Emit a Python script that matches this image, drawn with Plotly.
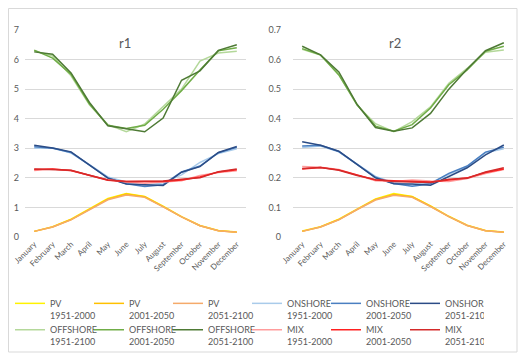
import plotly.graph_objects as go

months = ["January", "February", "March", "April", "May", "June", "July",
          "August", "September", "October", "November", "December"]

# ---- r1 ----
r1_pv_1951_2000 = [0.019, 0.035, 0.060, 0.095, 0.130, 0.147, 0.137, 0.104, 0.069, 0.039, 0.022, 0.017]
r1_pv_2001_2050 = [0.019, 0.034, 0.059, 0.094, 0.128, 0.145, 0.136, 0.103, 0.068, 0.038, 0.021, 0.016]
r1_pv_2051_2100 = [0.019, 0.034, 0.058, 0.093, 0.126, 0.142, 0.134, 0.102, 0.068, 0.038, 0.021, 0.016]
r1_on_1951_2000 = [0.300, 0.302, 0.284, 0.245, 0.203, 0.186, 0.175, 0.183, 0.210, 0.252, 0.282, 0.298]
r1_on_2001_2050 = [0.305, 0.300, 0.286, 0.244, 0.200, 0.180, 0.171, 0.177, 0.220, 0.240, 0.285, 0.303]
r1_on_2051_2100 = [0.310, 0.301, 0.288, 0.243, 0.199, 0.179, 0.176, 0.174, 0.219, 0.238, 0.286, 0.306]
r1_off_1951_2100 = [0.630, 0.612, 0.545, 0.447, 0.380, 0.356, 0.382, 0.442, 0.500, 0.595, 0.622, 0.628]
r1_off_2001_2050 = [0.632, 0.605, 0.550, 0.450, 0.378, 0.367, 0.378, 0.432, 0.495, 0.565, 0.630, 0.640]
r1_off_2051_2100 = [0.626, 0.618, 0.555, 0.455, 0.376, 0.366, 0.356, 0.402, 0.530, 0.562, 0.631, 0.650]
r1_mix_1951_2000 = [0.225, 0.230, 0.224, 0.208, 0.194, 0.186, 0.182, 0.186, 0.190, 0.208, 0.218, 0.224]
r1_mix_2001_2050 = [0.228, 0.230, 0.225, 0.208, 0.192, 0.188, 0.187, 0.188, 0.193, 0.203, 0.220, 0.227]
r1_mix_2051_2100 = [0.230, 0.229, 0.226, 0.209, 0.193, 0.188, 0.188, 0.189, 0.195, 0.200, 0.221, 0.230]

# ---- r2 ----
r2_pv_1951_2000 = [0.020, 0.035, 0.060, 0.095, 0.129, 0.147, 0.137, 0.105, 0.070, 0.040, 0.022, 0.017]
r2_pv_2001_2050 = [0.019, 0.034, 0.059, 0.094, 0.127, 0.144, 0.136, 0.104, 0.069, 0.039, 0.021, 0.016]
r2_pv_2051_2100 = [0.019, 0.034, 0.058, 0.093, 0.125, 0.141, 0.134, 0.103, 0.069, 0.039, 0.021, 0.016]
r2_on_1951_2000 = [0.303, 0.308, 0.288, 0.246, 0.205, 0.184, 0.176, 0.183, 0.212, 0.238, 0.285, 0.298]
r2_on_2001_2050 = [0.308, 0.310, 0.289, 0.245, 0.202, 0.181, 0.172, 0.180, 0.215, 0.240, 0.287, 0.304]
r2_on_2051_2100 = [0.322, 0.310, 0.290, 0.244, 0.200, 0.180, 0.179, 0.175, 0.205, 0.234, 0.278, 0.311]
r2_off_1951_2100 = [0.635, 0.615, 0.550, 0.445, 0.383, 0.356, 0.390, 0.440, 0.520, 0.570, 0.625, 0.632]
r2_off_2001_2050 = [0.637, 0.616, 0.548, 0.447, 0.375, 0.358, 0.380, 0.436, 0.515, 0.565, 0.628, 0.645]
r2_off_2051_2100 = [0.645, 0.616, 0.558, 0.448, 0.370, 0.358, 0.369, 0.418, 0.500, 0.568, 0.630, 0.657]
r2_mix_1951_2000 = [0.238, 0.236, 0.228, 0.210, 0.190, 0.188, 0.193, 0.189, 0.188, 0.198, 0.215, 0.228]
r2_mix_2001_2050 = [0.230, 0.235, 0.227, 0.209, 0.193, 0.190, 0.188, 0.186, 0.193, 0.200, 0.218, 0.230]
r2_mix_2051_2100 = [0.232, 0.235, 0.226, 0.208, 0.194, 0.188, 0.186, 0.184, 0.195, 0.199, 0.220, 0.234]

y_ticks = [0, 0.1, 0.2, 0.3, 0.4, 0.5, 0.6, 0.7]
y_ticktext_r1 = ["0", "1", "2", "3", "4", "5", "6", "7"]
y_ticktext_r2 = ["0", "0.1", "0.2", "0.3", "0.4", "0.5", "0.6", "0.7"]

names = ["PV<br>1951-2000", "PV<br>2001-2050", "PV<br>2051-2100",
         "ONSHORE<br>1951-2000", "ONSHORE<br>2001-2050", "ONSHORE<br>2051-2100",
         "OFFSHORE<br>1951-2100", "OFFSHORE<br>2001-2050", "OFFSHORE<br>2051-2100",
         "MIX<br>1951-2000", "MIX<br>2001-2050", "MIX<br>2051-2100"]
colors = ["#FFF200", "#FFC000", "#F5AA6A",
          "#A9CBEA", "#4A7FC1", "#2B4C86",
          "#B4D89A", "#70AD47", "#4E7A35",
          "#FF9C9C", "#FF2020", "#D42A2A"]

r1_series = [r1_pv_1951_2000, r1_pv_2001_2050, r1_pv_2051_2100,
             r1_on_1951_2000, r1_on_2001_2050, r1_on_2051_2100,
             r1_off_1951_2100, r1_off_2001_2050, r1_off_2051_2100,
             r1_mix_1951_2000, r1_mix_2001_2050, r1_mix_2051_2100]
r2_series = [r2_pv_1951_2000, r2_pv_2001_2050, r2_pv_2051_2100,
             r2_on_1951_2000, r2_on_2001_2050, r2_on_2051_2100,
             r2_off_1951_2100, r2_off_2001_2050, r2_off_2051_2100,
             r2_mix_1951_2000, r2_mix_2001_2050, r2_mix_2051_2100]

# page body has an 8px margin, so the figure is 8px smaller each way
W, H = 518, 348
fig = go.Figure()
for i, (name, col) in enumerate(zip(names, colors)):
    fig.add_trace(go.Scatter(x=months, y=r1_series[i], mode="lines", name=name,
                             line=dict(color=col, width=1.5), legendgroup=str(i),
                             xaxis="x", yaxis="y"))
    fig.add_trace(go.Scatter(x=months, y=r2_series[i], mode="lines", name=name,
                             line=dict(color=col, width=1.5), legendgroup=str(i),
                             showlegend=False, xaxis="x2", yaxis="y2"))

grey = "#595959"
ydom = [1 - 229 / H, 1 - 22 / H]
axis_common = dict(type="category", showgrid=False, showline=False, zeroline=False,
                   tickangle=-45, tickfont=dict(size=8, color=grey), ticks="",
                   range=[-0.5, 11.5], automargin=False)
yaxis_common = dict(range=[0, 0.7], tickvals=y_ticks, showgrid=True, gridcolor="#D9D9D9",
                    gridwidth=1, zeroline=False, showline=False, ticks="",
                    tickfont=dict(size=9, color=grey), automargin=False)

fig.update_layout(
    width=W, height=H,
    margin=dict(l=0, r=0, t=0, b=0, autoexpand=False),
    paper_bgcolor="white", plot_bgcolor="white",
    font=dict(family="Lato, Open Sans, sans-serif", color=grey),
    xaxis=dict(domain=[17 / W, 238 / W], anchor="y", **axis_common),
    yaxis=dict(domain=ydom, anchor="x", ticktext=y_ticktext_r1,
               ticklabelstandoff=5, **yaxis_common),
    xaxis2=dict(domain=[285 / W, 505 / W], anchor="y2", **axis_common),
    yaxis2=dict(domain=ydom, anchor="x2", ticktext=y_ticktext_r2,
                ticklabelstandoff=11, **yaxis_common),
    showlegend=True,
    legend=dict(orientation="h", x=2 / W, xanchor="left", y=1 - 283 / H, yanchor="top",
                entrywidth=74 / W, entrywidthmode="fraction", valign="top",
                font=dict(size=9, color=grey), tracegroupgap=0,
                itemwidth=30, bgcolor="rgba(0,0,0,0)"),
    annotations=[
        dict(text="r1", x=117 / W, y=1 - 35 / H, xref="paper", yref="paper",
             xanchor="center", yanchor="middle",
             showarrow=False, font=dict(size=13, color=grey)),
        dict(text="r2", x=387 / W, y=1 - 35 / H, xref="paper", yref="paper",
             xanchor="center", yanchor="middle",
             showarrow=False, font=dict(size=13, color=grey)),
    ],
    shapes=[dict(type="rect", xref="paper", yref="paper",
                 x0=0.5 / W, x1=509 / W, y0=1 - 344 / H, y1=1 - 0.5 / H,
                 line=dict(color="#D9D9D9", width=1), fillcolor="rgba(0,0,0,0)")],
)

fig.write_html("out.html")
